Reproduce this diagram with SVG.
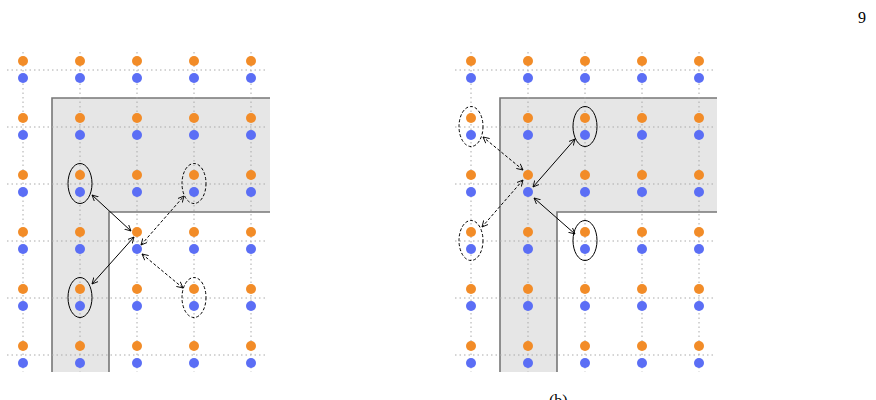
<svg xmlns="http://www.w3.org/2000/svg" width="876" height="400" viewBox="0 0 876 400">
<defs>
<style>
.g{stroke:#aaa;stroke-width:1;stroke-dasharray:1.5 3;fill:none}
.o circle{fill:#f28c28;r:5px}.b circle{fill:#5b6ef5;r:5px}
.e{fill:none;stroke:#000;stroke-width:1}
.ed{fill:none;stroke:#000;stroke-width:1;stroke-dasharray:3 2}
.a{stroke:#000;stroke-width:1;fill:none;marker-start:url(#m);marker-end:url(#m)}
.ad{stroke:#000;stroke-width:1;fill:none;stroke-dasharray:3 2;marker-start:url(#m);marker-end:url(#m)}
text{font-family:"Liberation Serif",serif;font-size:16px}
</style>
<marker id="m" viewBox="0 0 8 8" refX="7" refY="4" markerWidth="7" markerHeight="7" orient="auto-start-reverse"><path d="M0,0.5 L7,4 L0,7.5" fill="none" stroke="#000" stroke-width="1"/></marker>
</defs>
<g id="page"><text x="858" y="23">9</text><text x="549" y="406">(b)</text></g>
<g id="panelA">
<path d="M52,372V98H270V212H109V372Z" fill="#e6e6e6"/>
<path d="M52,372V98H270M270,212H109V372" fill="none" stroke="#777" stroke-width="1.6"/>
<path class="g" d="M7,70H268M7,127H268M7,184H268M7,241H268M7,298H268M7,355H268M23,52V372M80,52V372M137,52V372M194,52V372M251,52V372"/>
<g id="dotsA">
<g class="o">
<circle cx="23" cy="61" r="5"/><circle cx="80" cy="61" r="5"/><circle cx="137" cy="61" r="5"/><circle cx="194" cy="61" r="5"/><circle cx="251" cy="61" r="5"/>
<circle cx="23" cy="118" r="5"/><circle cx="80" cy="118" r="5"/><circle cx="137" cy="118" r="5"/><circle cx="194" cy="118" r="5"/><circle cx="251" cy="118" r="5"/>
<circle cx="23" cy="175" r="5"/><circle cx="80" cy="175" r="5"/><circle cx="137" cy="175" r="5"/><circle cx="194" cy="175" r="5"/><circle cx="251" cy="175" r="5"/>
<circle cx="23" cy="232" r="5"/><circle cx="80" cy="232" r="5"/><circle cx="137" cy="232" r="5"/><circle cx="194" cy="232" r="5"/><circle cx="251" cy="232" r="5"/>
<circle cx="23" cy="289" r="5"/><circle cx="80" cy="289" r="5"/><circle cx="137" cy="289" r="5"/><circle cx="194" cy="289" r="5"/><circle cx="251" cy="289" r="5"/>
<circle cx="23" cy="346" r="5"/><circle cx="80" cy="346" r="5"/><circle cx="137" cy="346" r="5"/><circle cx="194" cy="346" r="5"/><circle cx="251" cy="346" r="5"/>
</g>
<g class="b">
<circle cx="23" cy="78" r="5"/><circle cx="80" cy="78" r="5"/><circle cx="137" cy="78" r="5"/><circle cx="194" cy="78" r="5"/><circle cx="251" cy="78" r="5"/>
<circle cx="23" cy="135" r="5"/><circle cx="80" cy="135" r="5"/><circle cx="137" cy="135" r="5"/><circle cx="194" cy="135" r="5"/><circle cx="251" cy="135" r="5"/>
<circle cx="23" cy="192" r="5"/><circle cx="80" cy="192" r="5"/><circle cx="137" cy="192" r="5"/><circle cx="194" cy="192" r="5"/><circle cx="251" cy="192" r="5"/>
<circle cx="23" cy="249" r="5"/><circle cx="80" cy="249" r="5"/><circle cx="137" cy="249" r="5"/><circle cx="194" cy="249" r="5"/><circle cx="251" cy="249" r="5"/>
<circle cx="23" cy="306" r="5"/><circle cx="80" cy="306" r="5"/><circle cx="137" cy="306" r="5"/><circle cx="194" cy="306" r="5"/><circle cx="251" cy="306" r="5"/>
<circle cx="23" cy="363" r="5"/><circle cx="80" cy="363" r="5"/><circle cx="137" cy="363" r="5"/><circle cx="194" cy="363" r="5"/><circle cx="251" cy="363" r="5"/>
</g>
</g>
<g id="groupsA">
<ellipse class="e" cx="80" cy="183.5" rx="12" ry="20"/>
<ellipse class="e" cx="80" cy="297.5" rx="12" ry="20"/>
<ellipse class="ed" cx="194" cy="183.5" rx="12" ry="20"/>
<ellipse class="ed" cx="194" cy="297.5" rx="12" ry="20"/>
</g>
</g>
<g id="panelB">
<path d="M500,372V98H717V212H557V372Z" fill="#e6e6e6"/>
<path d="M500,372V98H717M717,212H557V372" fill="none" stroke="#777" stroke-width="1.6"/>
<path class="g" d="M455,70H716M455,127H716M455,184H716M455,241H716M455,298H716M455,355H716M471,52V372M528,52V372M585,52V372M642,52V372M699,52V372"/>
<g id="dotsB">
<g class="o">
<circle cx="471" cy="61" r="5"/><circle cx="528" cy="61" r="5"/><circle cx="585" cy="61" r="5"/><circle cx="642" cy="61" r="5"/><circle cx="699" cy="61" r="5"/>
<circle cx="471" cy="118" r="5"/><circle cx="528" cy="118" r="5"/><circle cx="585" cy="118" r="5"/><circle cx="642" cy="118" r="5"/><circle cx="699" cy="118" r="5"/>
<circle cx="471" cy="175" r="5"/><circle cx="528" cy="175" r="5"/><circle cx="585" cy="175" r="5"/><circle cx="642" cy="175" r="5"/><circle cx="699" cy="175" r="5"/>
<circle cx="471" cy="232" r="5"/><circle cx="528" cy="232" r="5"/><circle cx="585" cy="232" r="5"/><circle cx="642" cy="232" r="5"/><circle cx="699" cy="232" r="5"/>
<circle cx="471" cy="289" r="5"/><circle cx="528" cy="289" r="5"/><circle cx="585" cy="289" r="5"/><circle cx="642" cy="289" r="5"/><circle cx="699" cy="289" r="5"/>
<circle cx="471" cy="346" r="5"/><circle cx="528" cy="346" r="5"/><circle cx="585" cy="346" r="5"/><circle cx="642" cy="346" r="5"/><circle cx="699" cy="346" r="5"/>
</g>
<g class="b">
<circle cx="471" cy="78" r="5"/><circle cx="528" cy="78" r="5"/><circle cx="585" cy="78" r="5"/><circle cx="642" cy="78" r="5"/><circle cx="699" cy="78" r="5"/>
<circle cx="471" cy="135" r="5"/><circle cx="528" cy="135" r="5"/><circle cx="585" cy="135" r="5"/><circle cx="642" cy="135" r="5"/><circle cx="699" cy="135" r="5"/>
<circle cx="471" cy="192" r="5"/><circle cx="528" cy="192" r="5"/><circle cx="585" cy="192" r="5"/><circle cx="642" cy="192" r="5"/><circle cx="699" cy="192" r="5"/>
<circle cx="471" cy="249" r="5"/><circle cx="528" cy="249" r="5"/><circle cx="585" cy="249" r="5"/><circle cx="642" cy="249" r="5"/><circle cx="699" cy="249" r="5"/>
<circle cx="471" cy="306" r="5"/><circle cx="528" cy="306" r="5"/><circle cx="585" cy="306" r="5"/><circle cx="642" cy="306" r="5"/><circle cx="699" cy="306" r="5"/>
<circle cx="471" cy="363" r="5"/><circle cx="528" cy="363" r="5"/><circle cx="585" cy="363" r="5"/><circle cx="642" cy="363" r="5"/><circle cx="699" cy="363" r="5"/>
</g>
</g>
<g id="groupsB">
<ellipse class="e" cx="585" cy="126.5" rx="12" ry="20"/>
<ellipse class="e" cx="585" cy="240.5" rx="12" ry="20"/>
<ellipse class="ed" cx="471" cy="126.5" rx="12" ry="20"/>
<ellipse class="ed" cx="471" cy="240.5" rx="12" ry="20"/>
</g>
</g>
<g id="connectors">
<line class="a" x1="131" y1="231" x2="92" y2="195"/>
<line class="a" x1="134" y1="237" x2="92" y2="284"/>
<line class="ad" x1="141" y1="245" x2="184" y2="196"/>
<line class="ad" x1="142" y1="254" x2="183" y2="288"/>
<line class="a" x1="533" y1="187" x2="575" y2="139"/>
<line class="a" x1="534" y1="198" x2="575" y2="234"/>
<line class="ad" x1="523" y1="170" x2="483" y2="137"/>
<line class="ad" x1="523" y1="180" x2="482" y2="227"/>
</g>
</svg>
